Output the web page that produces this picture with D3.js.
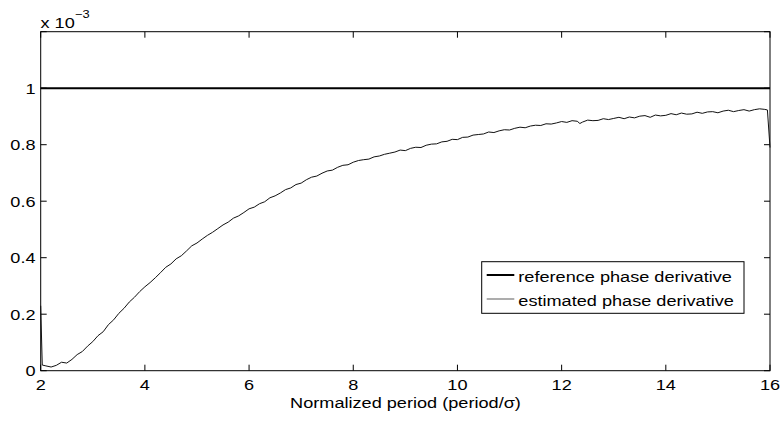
<!DOCTYPE html>
<html><head><meta charset="utf-8">
<script src="https://cdn.jsdelivr.net/npm/d3@7"></script>
<style>body{margin:0;background:#fff}svg{display:block}text{font-family:"Liberation Sans",Arial,sans-serif}</style>
</head><body>
<svg id="c" width="782" height="421"></svg>
<script>
const periods = [2.0,2.03,2.1,2.2,2.3,2.4,2.5,2.6,2.7,2.8,2.9,3.0,3.1,3.2,3.3,3.4,3.5,3.6,3.7,3.8,3.9,
4.0,4.1,4.2,4.3,4.4,4.5,4.6,4.7,4.8,4.9,5.0,5.1,5.2,5.3,5.4,5.5,5.6,5.7,5.8,5.9,
6.0,6.1,6.2,6.3,6.4,6.5,6.6,6.7,6.8,6.9,7.0,7.1,7.2,7.3,7.4,7.5,7.6,7.7,7.8,7.9,
8.0,8.1,8.2,8.3,8.4,8.5,8.6,8.7,8.8,8.9,9.0,9.1,9.2,9.3,9.4,9.5,9.6,9.7,9.8,9.9,
10.0,10.1,10.2,10.3,10.4,10.5,10.6,10.7,10.8,10.9,11.0,11.1,11.2,11.3,11.4,11.5,11.6,11.7,11.8,11.9,
12.0,12.1,12.2,12.3,12.35,12.4,12.5,12.6,12.7,12.8,12.9,13.0,13.1,13.2,13.3,13.4,13.5,13.6,13.7,13.8,13.9,
14.0,14.1,14.2,14.3,14.4,14.5,14.6,14.7,14.8,14.9,15.0,15.1,15.2,15.3,15.4,15.5,15.6,15.7,15.8,15.9,15.95,16.0];
// estimated phase derivative (x 1e-3)
const estimated = [0.23,0.02,0.017,0.013,0.019,0.03,0.027,0.04,0.057,0.068,0.087,0.103,0.124,0.138,0.163,0.18,0.203,0.221,0.243,0.26,0.28,
0.297,0.312,0.329,0.347,0.366,0.378,0.396,0.407,0.424,0.442,
0.452,0.466,0.479,0.49,0.503,0.516,0.526,0.54,0.548,0.56,
0.573,0.579,0.591,0.598,0.612,0.619,0.629,0.641,0.647,0.659,
0.664,0.676,0.685,0.689,0.699,0.707,0.71,0.72,0.727,0.729,
0.738,0.744,0.747,0.749,0.757,0.76,0.766,0.77,0.774,0.781,
0.779,0.787,0.791,0.79,0.798,0.802,0.803,0.81,0.812,0.819,
0.818,0.826,0.827,0.834,0.836,0.838,0.845,0.843,0.849,0.853,
0.852,0.858,0.862,0.86,0.866,0.869,0.868,0.874,0.873,0.877,
0.882,0.879,0.885,0.883,0.875,0.88,
0.887,0.885,0.886,0.892,0.889,0.893,0.897,0.892,0.898,0.895,
0.901,0.903,0.897,0.905,0.902,0.904,0.91,0.906,0.912,0.908,
0.909,0.915,0.911,0.916,0.917,0.913,0.919,0.922,0.917,0.921,
0.924,0.919,0.924,0.927,0.925,0.923,0.79];
const reference = [[2,1],[16,1]];
const xTicks = [2,4,6,8,10,12,14,16];
const yTicks = [0,0.2,0.4,0.6,0.8,1,1.2];
const yTickLabels = ["0","0.2","0.4","0.6","0.8","1",""];
const legendLabels = ["reference phase derivative","estimated phase derivative"];

const svg = d3.select("#c");
const L=40.7, R=770, T=31.7, B=370.7;
const x = d3.scaleLinear().domain([2,16]).range([L,R]);
const y = d3.scaleLinear().domain([0,1.2]).range([B,T]);
const fs = 15.5, sx = 1.17;

function txt(px,py,s,anchor,size){
  return svg.append("text").attr("transform",`translate(${px},${py}) scale(${sx},1)`)
    .attr("text-anchor",anchor||"start").attr("font-size",size||fs).text(s);
}

// axes box
svg.append("rect").attr("x",L).attr("y",T).attr("width",R-L).attr("height",B-T)
  .attr("fill","none").attr("stroke","#000").attr("stroke-width",1);

// ticks
const tl = 6;
xTicks.forEach(t=>{
  svg.append("line").attr("x1",x(t)).attr("x2",x(t)).attr("y1",B).attr("y2",B-tl).attr("stroke","#000");
  svg.append("line").attr("x1",x(t)).attr("x2",x(t)).attr("y1",T).attr("y2",T+tl).attr("stroke","#000");
  txt(x(t),389.5,String(t),"middle");
});
yTicks.forEach((t,i)=>{
  svg.append("line").attr("x1",L).attr("x2",L+tl).attr("y1",y(t)).attr("y2",y(t)).attr("stroke","#000");
  svg.append("line").attr("x1",R).attr("x2",R-tl).attr("y1",y(t)).attr("y2",y(t)).attr("stroke","#000");
  if (yTickLabels[i]) txt(35.5,y(t)+5.5,yTickLabels[i],"end");
});

// exponent
txt(40.5,28,"x 10","start");
txt(75,18,"\u22123","start",11);

// x label
txt(405.5,408,"Normalized period (period/\u03c3)","middle");

const line = d3.line().x(d=>x(d[0])).y(d=>y(d[1]));
svg.append("path").attr("d",line(reference)).attr("fill","none").attr("stroke","#000").attr("stroke-width",2);
svg.append("path").attr("d",line(periods.map((p,i)=>[p,estimated[i]]))).attr("fill","none").attr("stroke","#111").attr("stroke-width",1).attr("stroke-linejoin","round");

// legend
svg.append("rect").attr("x",481.7).attr("y",261.7).attr("width",744-481.7).attr("height",313.3-261.7)
  .attr("fill","#fff").attr("stroke","#000").attr("stroke-width",1);
const ly=[275,299];
const lstyles=[{c:"#000",w:2},{c:"#777",w:1.2}];
legendLabels.forEach((lab,i)=>{
  svg.append("line").attr("x1",486.7).attr("x2",514.3).attr("y1",ly[i]).attr("y2",ly[i]).attr("stroke",lstyles[i].c).attr("stroke-width",lstyles[i].w);
  txt(518.3,ly[i]+6.5,lab,"start");
});
</script>
</body></html>
